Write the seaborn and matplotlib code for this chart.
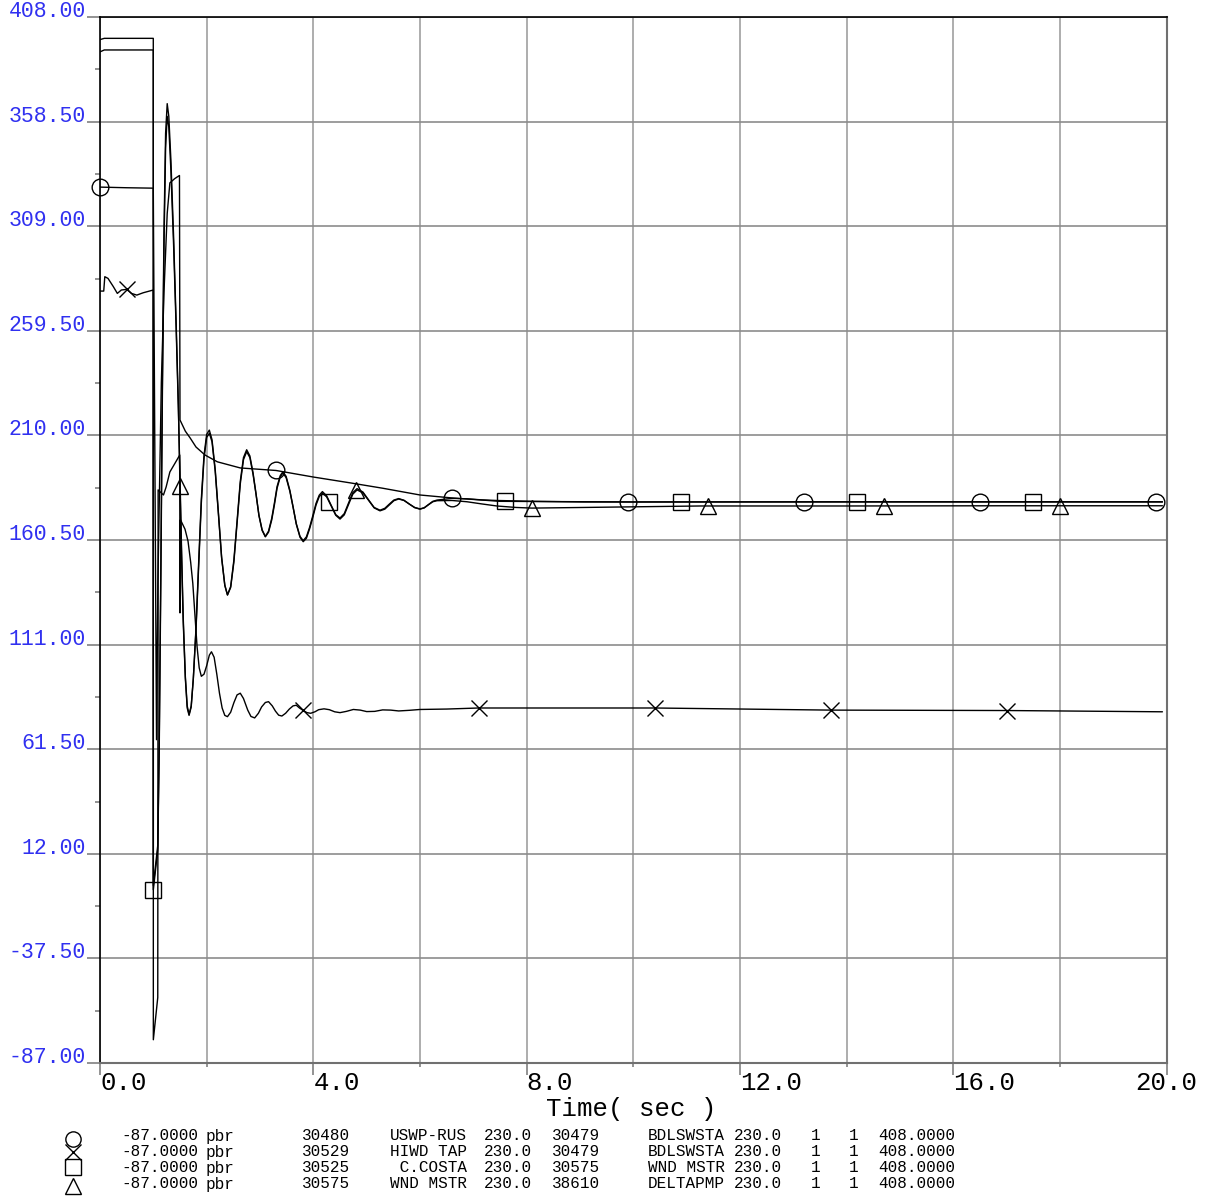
import numpy as np
import matplotlib
matplotlib.use("Agg")
import matplotlib.pyplot as plt
import seaborn as sns
from matplotlib.lines import Line2D

# Series data (time in sec, flow in MW)
circ_t = [0, 0.5, 0.999, 1.06, 1.085, 1.15, 1.2, 1.26, 1.31, 1.4, 1.49, 1.5, 1.6, 1.69,
          1.8, 1.97, 2.2, 2.63, 3.3, 4.0, 4.7, 5.3, 6.0, 6.6, 7.5, 10.0, 14.0, 19.92]
circ_v = [327.5, 327.2, 327.0, 66, 140, 235, 278, 315, 329.5, 331.5, 333, 217.3, 212, 208.8,
          204.5, 200.7, 197.5, 194.6, 193.4, 190.3, 187.5, 185, 181.8, 180.4, 178.8, 178.5, 178.6, 178.6]

xs_t = [0, 0.07, 0.09, 0.15, 0.25, 0.325, 0.40, 0.5, 0.59, 0.69, 0.81, 0.999, 1.0, 1.083,
        1.09, 1.19, 1.24, 1.31, 1.41, 1.495, 1.5, 1.51, 1.594, 1.65, 1.7, 1.74, 1.78, 1.82, 1.86, 1.9,
        1.95, 2.0, 2.05, 2.09, 2.14, 2.19, 2.24, 2.29, 2.34, 2.39, 2.45, 2.51, 2.57, 2.63, 2.69, 2.77,
        2.83, 2.9, 2.97, 3.03, 3.1, 3.16, 3.23, 3.29, 3.35, 3.41, 3.48, 3.55, 3.62, 3.68, 3.74, 3.8,
        3.88, 3.95, 4.03, 4.1, 4.2, 4.3, 4.4, 4.5, 4.62, 4.75, 4.88, 5.0, 5.15, 5.3, 5.45, 5.6, 5.8,
        6.0, 6.5, 7.1, 10.4, 13.7, 17.0, 19.92]
xs_v = [278.3, 278.3, 285.1, 284.3, 280.4, 277.2, 278.8, 279.1, 277.2, 276.4, 277.5, 278.8, -76, -56,
        184.2, 181.8, 185.6, 192.7, 197, 200.7, 126, 170, 165.6, 160, 150, 140, 125, 110, 100, 96,
        97, 101, 106, 107.6, 105, 97, 88, 81, 77.5, 76.9, 79, 83.5, 87.2, 88, 85.5, 80,
        77, 76.3, 78.5, 81.5, 83.6, 84, 82, 79.5, 77.6, 77.2, 78.5, 80.5, 82, 82.3, 81, 80.0,
        78.8, 78.5, 79.2, 80.2, 80.6, 80.2, 79.2, 78.8, 79.4, 80.3, 80, 79.3, 79.4, 80.1, 80, 79.6, 79.9,
        80.3, 80.5, 81, 81, 80, 79.8, 79.2]

osc_t = [0, 0.08, 0.999, 1.0, 1.083,
         1.11, 1.14, 1.17, 1.2, 1.23, 1.26,
         1.29, 1.33, 1.38, 1.426, 1.47, 1.5, 1.53, 1.56, 1.6, 1.635, 1.67,
         1.71, 1.75, 1.8, 1.85, 1.9, 1.95, 2.0, 2.05,
         2.1, 2.16, 2.22, 2.28, 2.34, 2.39,
         2.45, 2.51, 2.57, 2.63, 2.69, 2.75,
         2.81, 2.87, 2.925, 2.98, 3.04, 3.1,
         3.16, 3.22, 3.27, 3.32, 3.38, 3.43,
         3.49, 3.56, 3.62, 3.68, 3.75, 3.81,
         3.87, 3.93, 3.99, 4.05, 4.11, 4.17,
         4.25, 4.335, 4.42, 4.5, 4.58, 4.66, 4.74, 4.82, 4.93, 5.035, 5.14, 5.25,
         5.34, 5.425, 5.51, 5.6, 5.7, 5.8, 5.9, 6.0, 6.08, 6.16, 6.24, 6.32,
         6.6, 6.88, 7.15, 7.44, 7.8, 8.1, 9.07, 10.0, 11.26, 14.0, 17.0, 19.92]
sq_v = [391.5, 392.4, 392.4, -5, 14,
        60, 140, 230, 300, 346, 361,
        356, 335, 300, 262, 222, 190, 155, 124, 96, 82, 78,
        82, 95, 118, 148, 178, 199, 209, 211,
        207, 193, 172.8, 152, 139, 134.5,
        138, 150, 168.4, 187, 198.5, 202.3,
        199.5, 191.5, 182.2, 172, 165, 162,
        164.2, 170, 177.1, 185, 190.4, 192.2,
        190, 183.5, 176, 168, 161.8, 159.7,
        161.3, 165.8, 171.2, 177, 181, 182.7,
        180.9, 176.6, 172.2, 170.4, 172.4, 177.3, 182.2, 184.2, 182.8, 179.3, 175.7, 174.3,
        175.1, 177.1, 179.1, 179.9, 179.2, 177.5, 175.9, 175.2, 175.8, 177.3, 178.8, 179.4,
        180.2, 180.0, 179.5, 179.2, 179.0, 178.8, 178.5, 178.5, 178.5, 178.5, 178.5, 178.5]
tri_v = [397.3, 397.9, 397.9, -3, 16,
         64, 146, 237, 307, 353, 367,
         361, 340, 304, 265, 224, 186, 152, 122, 95, 81, 77.5,
         81.5, 95, 119, 150, 180, 200.5, 210.5, 212.5,
         208, 194, 173.5, 152.5, 139.2, 134.5,
         138.5, 151, 169.5, 188.3, 199.5, 203.2,
         200.3, 192.2, 182.5, 172.3, 165.3, 162.2,
         164.7, 170.8, 178, 185.8, 191, 192.8,
         190.6, 184, 176.2, 168.3, 162.2, 160.2,
         162, 166.5, 172, 177.8, 181.7, 183.4,
         181.4, 176.9, 172.5, 170.9, 173, 178, 182.9, 184.8, 183.2, 179.5, 175.9, 174.6,
         175.5, 177.5, 179.4, 180.1, 179.3, 177.5, 175.8, 175.1, 175.7, 177.2, 178.6, 179.1,
         179.2, 178.6, 177.6, 176.6, 175.9, 175.6, 175.9, 176.2, 176.6, 176.6, 176.7, 176.7]

# where the symbols sit along each curve
circ_mark_t = [0, 3.3, 6.6, 9.9, 13.2, 16.5, 19.8]
x_mark_t = [0.5, 3.8, 7.1, 10.4, 13.7, 17.0]
sq_mark_t = [1.0, 4.3, 7.6, 10.9, 14.2, 17.5]
tri_mark_t = [1.5, 4.8, 8.1, 11.4, 14.7, 18.0]

# axes ticks
y_ticks = [-87.0, -37.5, 12.0, 61.5, 111.0, 160.5, 210.0, 259.5, 309.0, 358.5, 408.0]
y_tick_labels = ["-87.00", "-37.50", "12.00", "61.50", "111.00", "160.50",
                 "210.00", "259.50", "309.00", "358.50", "408.00"]
y_minor = [-62.25, -12.75, 36.75, 86.25, 135.75, 185.25, 234.75, 284.25, 333.75, 383.25]
x_ticks = [0, 4, 8, 12, 16, 20]
x_tick_labels = ["0.0", "4.0", "8.0", "12.0", "16.0", "20.0"]
x_minor = [2, 6, 10, 14, 18]

# legend table below the plot
leg_value = ["-87.0000", "-87.0000", "-87.0000", "-87.0000"]
leg_unit = ["pbr", "pbr", "pbr", "pbr"]
leg_from_bus = ["30480", "30529", "30525", "30575"]
leg_from_name = ["USWP-RUS", "HIWD TAP", " C.COSTA", "WND MSTR"]
leg_from_kv = ["230.0", "230.0", "230.0", "230.0"]
leg_to_bus = ["30479", "30479", "30575", "38610"]
leg_to_name = ["BDLSWSTA", "BDLSWSTA", "WND MSTR", "DELTAPMP"]
leg_to_kv = ["230.0", "230.0", "230.0", "230.0"]
leg_ckt = ["1", "1", "1", "1"]
leg_sec = ["1", "1", "1", "1"]
leg_max = ["408.0000", "408.0000", "408.0000", "408.0000"]

sns.set_style("white")
plt.rcParams["font.family"] = ["Liberation Mono", "DejaVu Sans Mono"]

W, H = 1205, 1197
fig = plt.figure(figsize=(W / 100, H / 100), dpi=100)
ax = fig.add_axes([100 / W, 1 - 1063 / H, 1066.7 / W, 1046 / H])

series = [
    (circ_t, circ_v, "o", circ_mark_t, 12),
    (xs_t, xs_v, "x", x_mark_t, 12),
    (osc_t, sq_v, "s", sq_mark_t, 11.5),
    (osc_t, tri_v, "^", tri_mark_t, 11.5),
]
for t, v, m, mt, ms in series:
    sns.lineplot(x=t, y=v, ax=ax, estimator=None, sort=False, color="black",
                 linewidth=1.0, legend=False)
    ax.plot(mt, np.interp(mt, t, v), ls="none", marker=m, ms=ms, mfc="none",
            mec="black", mew=1.0, clip_on=False, zorder=5)

ax.set_xlim(0, 20)
ax.set_ylim(-87, 408)
ax.set_xlabel("")
ax.set_ylabel("")

ax.set_xticks(x_ticks, x_tick_labels, ha="left", fontsize=18.5)
ax.set_xticks(x_minor, minor=True)
ax.set_yticks(y_ticks, y_tick_labels, va="baseline", fontsize=15.5)
ax.set_yticks(y_minor, minor=True)
ax.get_xticklabels()[-1].set_ha("center")

# tick lengths in points (13 px, 5 px, 12 px, 4 px)
ax.tick_params(axis="y", which="major", left=True, length=9.4, width=1.2,
               color="#808080", pad=0.7, labelcolor="#3030f0")
ax.tick_params(axis="y", which="minor", left=True, length=3.6, width=1.2, color="#808080")
ax.tick_params(axis="x", which="major", bottom=True, length=8.6, width=1.2,
               color="#808080", pad=-3, labelcolor="black")
ax.tick_params(axis="x", which="minor", bottom=True, length=2.9, width=1.2, color="#808080")

ax.grid(axis="x", which="both", color="#a0a0a0", lw=1.2)
ax.grid(axis="y", which="major", color="#8c8c8c", lw=1.2)
ax.set_axisbelow(True)

for side in ["left", "top"]:
    ax.spines[side].set_color("black")
    ax.spines[side].set_linewidth(1.2)
for side in ["right", "bottom"]:
    ax.spines[side].set_color("#707070")
    ax.spines[side].set_linewidth(1.5)

fig.text(631 / W, 1 - 1109 / H, "Time( sec )", ha="center", va="center",
         fontsize=18.5, color="black")

# legend rows
leg_cols = [(121, leg_value), (206, leg_unit), (302, leg_from_bus), (390, leg_from_name),
            (484, leg_from_kv), (552, leg_to_bus), (648, leg_to_name), (734, leg_to_kv),
            (811, leg_ckt), (849, leg_sec), (878, leg_max)]
leg_row_y = [1136, 1152, 1168, 1184]
for i, ry in enumerate(leg_row_y):
    for cx, col in leg_cols:
        fig.text(cx / W, 1 - ry / H, col[i], ha="left", va="center",
                 fontsize=11.5, color="black")

leg_sym = [("o", 1139), ("x", 1152), ("s", 1167), ("^", 1186)]
for m, sy in leg_sym:
    fig.add_artist(Line2D([73 / W], [1 - sy / H], transform=fig.transFigure,
                          marker=m, ms=11, mfc="none", mec="black", mew=1.0, ls="none"))

fig.savefig("out.png", dpi=100)
